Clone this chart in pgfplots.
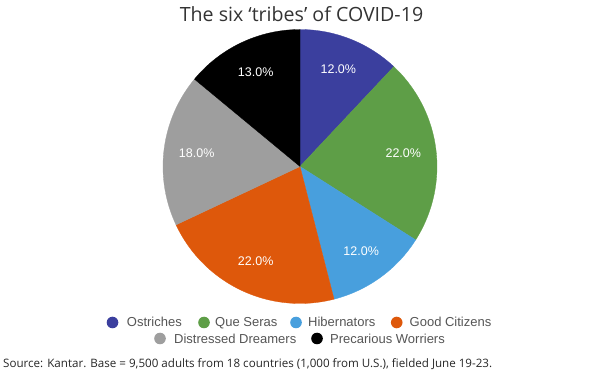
\documentclass[border=0pt]{standalone}
\usepackage{fontspec}
\setmainfont{Open Sans}
\newfontfamily\lab{Liberation Sans}
\usepackage{pgfplots}
\pgfplotsset{compat=1.18}
\usepgfplotslibrary{polar}
\definecolor{cOst}{HTML}{3B3F9E}
\definecolor{cQue}{HTML}{5E9E47}
\definecolor{cHib}{HTML}{489FDD}
\definecolor{cGood}{HTML}{DE580B}
\definecolor{cDis}{HTML}{9E9E9E}
\definecolor{cPre}{HTML}{000000}
\definecolor{titlegray}{HTML}{333333}
\definecolor{leggray}{HTML}{555555}
% slice: colour, cumulative start (%), cumulative end (%), label value
\newcommand\slice[4]{%
  \addplot[fill=#1, draw=#1, line width=0.3pt, domain=90-3.6*#3:90-3.6*#2, samples=80] {1} -- (axis cs:0,0) -- cycle;
  \node[text=white, font=\lab\fontsize{12.5bp}{14bp}\selectfont] at (axis cs:{90-1.8*(#2+#3)},0.76) {#4\%};
}
\begin{document}
\begin{tikzpicture}
\path[use as bounding box] (0,0) rectangle (600bp,375bp);
\node[anchor=base, text=titlegray, font=\fontsize{19.6bp}{22bp}\selectfont] at (301.5bp,353bp) {The six ‘tribes’ of COVID-19};
\begin{polaraxis}[
  at={(300bp,208.5bp)}, anchor=center,
  scale only axis, width=274bp, height=274bp,
  hide axis, ymin=0, ymax=1,
  clip=false,
]
% shares (%): Ostriches 12, Que Seras 22, Hibernators 12, Good Citizens 22, Distressed Dreamers 18, Precarious Worriers 14 (labelled 13.0%)
\slice{cOst}{0}{12}{12.0}
\slice{cQue}{12}{34}{22.0}
\slice{cHib}{34}{46}{12.0}
\slice{cGood}{46}{68}{22.0}
\slice{cDis}{68}{86}{18.0}
\slice{cPre}{86}{100}{13.0}
\end{polaraxis}
% legend
\begin{scope}[font=\lab\fontsize{13bp}{15bp}\selectfont, every node/.style={anchor=base west, inner sep=0pt, text=leggray}]
\fill[cOst] (112.5bp,52.5bp) circle (5.8bp);
\node at (126.7bp,48.3bp) {Ostriches};
\fill[cQue] (204bp,52.5bp) circle (5.8bp);
\node at (215bp,48.3bp) {Que Seras};
\fill[cHib] (296bp,52.5bp) circle (5.8bp);
\node at (308bp,48.3bp) {Hibernators};
\fill[cGood] (396.7bp,52.5bp) circle (5.8bp);
\node at (409.5bp,48.3bp) {Good Citizens};
\fill[cDis] (160bp,36.5bp) circle (5.8bp);
\node at (174bp,31.7bp) {Distressed Dreamers};
\fill[cPre] (317bp,36.5bp) circle (5.8bp);
\node at (330bp,31.7bp) {Precarious Worriers};
\end{scope}
\node[anchor=base west, inner sep=0pt, text=black!85, font=\fontsize{11.6bp}{13bp}\selectfont] at (3bp,7.8bp) {Source: Kantar. Base = 9,500 adults from 18 countries (1,000 from U.S.), fielded June 19-23.};
\end{tikzpicture}
\end{document}
